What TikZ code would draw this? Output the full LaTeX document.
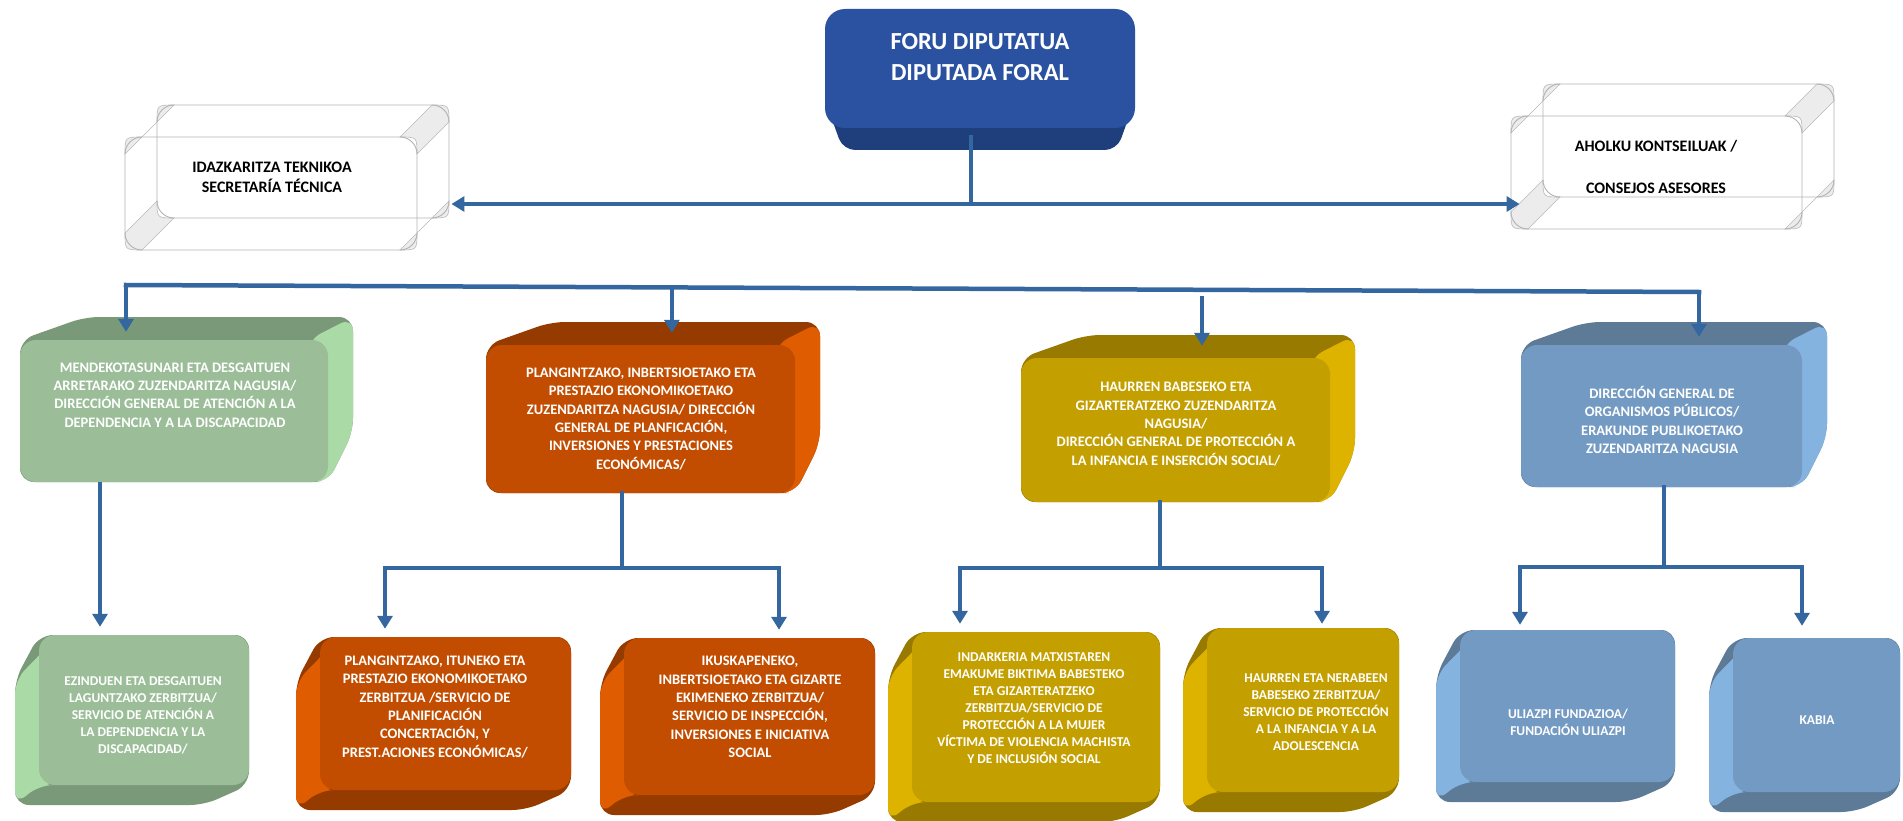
\documentclass[tikz,border=0pt]{standalone}
\usepackage{fontspec}
\setmainfont{Carlito}
\usetikzlibrary{arrows.meta, positioning, calc}

\definecolor{conn}{HTML}{3466A0}
\definecolor{dipfront}{HTML}{2A52A0}
\definecolor{dipbot}{HTML}{1F3F7C}
\definecolor{grnfront}{HTML}{9BBE99}
\definecolor{grntop}{HTML}{7A9978}
\definecolor{grnside}{HTML}{AADBA6}
\definecolor{orgfront}{HTML}{C24D00}
\definecolor{orgtop}{HTML}{963B00}
\definecolor{orgside}{HTML}{E05C00}
\definecolor{yelfront}{HTML}{C49F00}
\definecolor{yeltop}{HTML}{987A00}
\definecolor{yelside}{HTML}{DDB300}
\definecolor{blufront}{HTML}{739AC2}
\definecolor{blutop}{HTML}{5D7A97}
\definecolor{bluside}{HTML}{85B3DF}

\tikzset{
  face/.style={rectangle, rounded corners=16pt, inner sep=0pt, draw=none},
  hollow/.style={rectangle, rounded corners=17pt, draw=gray!60, line width=0.9pt, inner sep=0pt},
  bevel/.style={fill=gray!15, draw=gray!55, line width=0.6pt},
  wire/.style={draw=conn, line width=4.5pt, line cap=rect},
  arr/.style={draw=conn, line width=4.5pt, -{Triangle[width=15pt,length=13pt]}, shorten >=8pt},
  bigtxt/.style={text=white, align=center, inner sep=0pt, font=\fontsize{24.5}{31}\selectfont\bfseries},
  boxtxt/.style={align=center, inner sep=0pt, font=\fontsize{16}{20}\selectfont\bfseries},
  midtxt/.style={text=white, align=center, inner sep=0pt, font=\fontsize{14.5}{18.3}\selectfont\bfseries},
  lowtxt/.style={text=white, align=center, inner sep=0pt, font=\fontsize{13.5}{17}\selectfont\bfseries}
}

\begin{document}
\begin{tikzpicture}[x=1pt, y=-1pt]
\useasboundingbox (0,0) rectangle (1903,821);

% Diputado box
\fill[dipbot, rounded corners=12pt] (825,100) -- (1135,100) -- (1117,150) -- (843,150) -- cycle;
\node[face, fill=dipfront, rounded corners=20pt, minimum width=310pt, minimum height=119pt] (diput) at (980,68.5) {};
\node[bigtxt] (diput-t) at (980,57) {FORU DIPUTATUA\\DIPUTADA FORAL};

% White boxes with bevelled corners
\foreach \xl/\yt/\xr/\yb in {157/105/449/218, 1543/84/1834/197} {
  \draw[bevel] (\xl+17,\yt) .. controls (\xl,\yt) .. (\xl,\yt+17) -- (\xl-32,\yt+49) .. controls (\xl-32,\yt+32) .. (\xl-15,\yt+32) -- cycle;
  \draw[bevel] (\xr-17,\yt) .. controls (\xr,\yt) .. (\xr,\yt+17) -- (\xr-32,\yt+49) .. controls (\xr-32,\yt+32) .. (\xr-49,\yt+32) -- cycle;
  \draw[bevel] (\xl,\yb-17) .. controls (\xl,\yb) .. (\xl+17,\yb) -- (\xl-15,\yb+32) .. controls (\xl-32,\yb+32) .. (\xl-32,\yb+15) -- cycle;
  \draw[bevel] (\xr,\yb-17) .. controls (\xr,\yb) .. (\xr-17,\yb) -- (\xr-49,\yb+32) .. controls (\xr-32,\yb+32) .. (\xr-32,\yb+15) -- cycle;
}
\node[hollow, minimum width=292pt, minimum height=113pt] (secr-b) at (303,161.5) {};
\node[hollow, minimum width=292pt, minimum height=113pt] (secr) at (271,193.5) {};
\node[boxtxt] (secr-t) at (272,177) {IDAZKARITZA TEKNIKOA\\SECRETARÍA TÉCNICA};
\node[hollow, minimum width=291pt, minimum height=113pt] (aholku-b) at (1688.5,140.5) {};
\node[hollow, minimum width=291pt, minimum height=113pt] (aholku) at (1656.5,172.5) {};
\node[boxtxt] (aholku-t) at (1656,167) {AHOLKU KONTSEILUAK /\\[22pt]CONSEJOS ASESORES};

% Directorates (extruded up-right)
\foreach \nm/\xl/\yt/\xr/\yb/\cf/\ct/\cs in {g1/20/340/328/482/grnfront/grntop/grnside, o1/486/345/795/493/orgfront/orgtop/orgside, y1/1021/358/1330/502/yelfront/yeltop/yelside, b1/1521/345/1802/487/blufront/blutop/bluside} {
  \fill[\ct, rounded corners=14pt] (\xl,\yb) -- (\xl,\yt) -- (\xl+65,\yt-23) -- (\xr+25,\yt-23) -- (\xr+25,\yb-50) -- (\xr,\yb) -- cycle;
  \fill[\cs, rounded corners=14pt] (\xr-20,\yt) -- (\xr+25,\yt-23) -- (\xr+25,\yb-50) -- (\xr,\yb) -- (\xr-20,\yb) -- cycle;
  \node[face, fill=\cf, minimum width={(\xr-\xl)*1pt}, minimum height={(\yb-\yt)*1pt}] (\nm) at ({(\xl+\xr)/2},{(\yt+\yb)/2}) {};
}

% Services (extruded down-left)
\foreach \nm/\xl/\yt/\xr/\yb/\cf/\ct/\cs in {g2/39/635/249/785/grnfront/grntop/grnside, o2/320/637/571/790/orgfront/orgtop/orgside, o3/624/638/875/795/orgfront/orgtop/orgside, y2/912/632/1160/802/yelfront/yeltop/yelside, y3/1207/628/1399/792/yelfront/yeltop/yelside, b2/1460/630/1675/782/blufront/blutop/bluside, b3/1733/638/1900/792/blufront/blutop/bluside} {
  \fill[\ct, rounded corners=14pt] (\xl,\yt) -- (\xr,\yt) -- (\xr,\yb) -- (\xr-45,\yb+20) -- (\xl-24,\yb+20) -- (\xl-24,\yt+45) -- cycle;
  \fill[\cs, rounded corners=14pt] (\xl+20,\yt) -- (\xl-24,\yt+45) -- (\xl-24,\yb+20) -- (\xl,\yb) -- (\xl+20,\yb) -- cycle;
  \node[face, fill=\cf, minimum width={(\xr-\xl)*1pt}, minimum height={(\yb-\yt)*1pt}] (\nm) at ({(\xl+\xr)/2},{(\yt+\yb)/2}) {};
}

% Texts
\node[midtxt] (g1-t) at (175,395) {MENDEKOTASUNARI ETA DESGAITUEN\\ARRETARAKO ZUZENDARITZA NAGUSIA/\\DIRECCIÓN GENERAL DE ATENCIÓN A LA\\DEPENDENCIA Y A LA DISCAPACIDAD};
\node[midtxt] (o1-t) at (641,419) {PLANGINTZAKO, INBERTSIOETAKO ETA\\PRESTAZIO EKONOMIKOETAKO\\ZUZENDARITZA NAGUSIA/ DIRECCIÓN\\GENERAL DE PLANFICACIÓN,\\INVERSIONES Y PRESTACIONES\\ECONÓMICAS/};
\node[midtxt] (y1-t) at (1176,424) {HAURREN BABESEKO ETA\\GIZARTERATZEKO ZUZENDARITZA\\NAGUSIA/\\DIRECCIÓN GENERAL DE PROTECCIÓN A\\LA INFANCIA E INSERCIÓN SOCIAL/};
\node[midtxt] (b1-t) at (1662,420) {DIRECCIÓN GENERAL DE\\ORGANISMOS PÚBLICOS/\\ERAKUNDE PUBLIKOETAKO\\ZUZENDARITZA NAGUSIA};
\node[lowtxt] (g2-t) at (143,715) {EZINDUEN ETA DESGAITUEN\\LAGUNTZAKO ZERBITZUA/\\SERVICIO DE ATENCIÓN A\\LA DEPENDENCIA Y LA\\DISCAPACIDAD/};
\node[midtxt] (o2-t) at (435,707) {PLANGINTZAKO, ITUNEKO ETA\\PRESTAZIO EKONOMIKOETAKO\\ZERBITZUA /SERVICIO DE\\PLANIFICACIÓN\\CONCERTACIÓN, Y\\PREST.ACIONES ECONÓMICAS/};
\node[midtxt] (o3-t) at (750,707) {IKUSKAPENEKO,\\INBERTSIOETAKO ETA GIZARTE\\EKIMENEKO ZERBITZUA/\\SERVICIO DE INSPECCIÓN,\\INVERSIONES E INICIATIVA\\SOCIAL};
\node[lowtxt] (y2-t) at (1034,708) {INDARKERIA MATXISTAREN\\EMAKUME BIKTIMA BABESTEKO\\ETA GIZARTERATZEKO\\ZERBITZUA/SERVICIO DE\\PROTECCIÓN A LA MUJER\\VÍCTIMA DE VIOLENCIA MACHISTA\\Y DE INCLUSIÓN SOCIAL};
\node[lowtxt] (y3-t) at (1316,712) {HAURREN ETA NERABEEN\\BABESEKO ZERBITZUA/\\SERVICIO DE PROTECCIÓN\\A LA INFANCIA Y A LA\\ADOLESCENCIA};
\node[lowtxt] (b2-t) at (1568,722) {ULIAZPI FUNDAZIOA/\\FUNDACIÓN ULIAZPI};
\node[lowtxt] (b3-t) at (1817,720) {KABIA};

% Top connectors
\coordinate (hub) at (971,204);
\draw[wire] (hub |- diput.south) ++(0,9) -- (hub);
\draw[arr, shorten >=2pt] (hub) -- (hub -| secr-b.east);
\draw[arr, shorten >=0pt] (hub) -- ($(hub -| aholku.west)+(9,0)$);

% Bus to directorates
\coordinate (bus-l) at (126,285);
\coordinate (bus-r) at (1699,292);
\coordinate (bus-o) at ($(bus-l)!0.347!(bus-r)$);
\coordinate (bus-y) at (1202,296);
\draw[wire] (bus-l) -- (bus-r);
\draw[arr] (bus-l) -- (bus-l |- g1.north);
\draw[arr, shorten >=12pt] (bus-o) -- (bus-o |- o1.north);
\draw[arr, shorten >=12pt] (bus-y) -- (bus-y |- y1.north);
\draw[arr] (bus-r) -- (bus-r |- b1.north);

% Directorates to services
\coordinate (g-top) at ([xshift=-74pt]g1.south);
\draw[arr] (g-top) -- (g-top |- g2.north);

\coordinate (o-bus) at (622,568);
\coordinate (o-l) at (385,568);
\coordinate (o-r) at (779,568);
\draw[wire] (o1.south -| o-bus) -- (o-bus);
\draw[wire] (o-l) -- (o-r);
\draw[arr] (o-l) -- (o-l |- o2.north);
\draw[arr] (o-r) -- (o-r |- o3.north);

\coordinate (y-bus) at (1160,568);
\coordinate (y-l) at (960,568);
\coordinate (y-r) at (1322,568);
\draw[wire] (y1.south -| y-bus) -- (y-bus);
\draw[wire] (y-l) -- (y-r);
\draw[arr] (y-l) -- (y-l |- y2.north);
\draw[arr, shorten >=4pt] (y-r) -- (y-r |- y3.north);

\coordinate (b-bus) at (1664,567);
\coordinate (b-l) at (1520,567);
\coordinate (b-r) at (1802,567);
\draw[wire] (b1.south -| b-bus) -- (b-bus);
\draw[wire] (b-l) -- (b-r);
\draw[arr, shorten >=5pt] (b-l) -- (b-l |- b2.north);
\draw[arr, shorten >=12pt] (b-r) -- (b-r |- b3.north);

\end{tikzpicture}
\end{document}
